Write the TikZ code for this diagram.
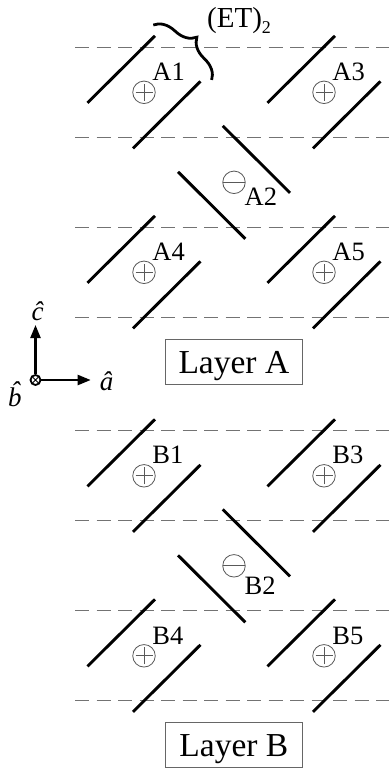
\documentclass[tikz,border=0pt]{standalone}
\usepackage{fontspec}
\setmainfont{Liberation Serif}
\usetikzlibrary{arrows.meta,decorations.pathreplacing}

\tikzset{
  stick/.style={line width=2.9pt, black},
  guide/.style={draw=black!55, line width=1.1pt, dash pattern=on 14pt off 7.5pt},
  ionring/.style={circle, draw=black!65, line width=0.8pt, minimum size=22.5pt, inner sep=0pt},
  plusion/.style={ionring, path picture={
      \draw[black!65, line width=0.8pt]
        ([xshift=-8.5pt]path picture bounding box.center) -- ([xshift=8.5pt]path picture bounding box.center)
        ([yshift=-8.5pt]path picture bounding box.center) -- ([yshift=8.5pt]path picture bounding box.center);}},
  minusion/.style={ionring, path picture={
      \draw[black!65, line width=0.8pt]
        ([xshift=-11pt]path picture bounding box.center) -- ([xshift=11pt]path picture bounding box.center);}},
  molname/.style={font=\fontsize{26.5}{29}\selectfont, inner sep=0pt, anchor=base west},
  layerbox/.style={draw=black!60, line width=0.9pt, font=\fontsize{33.5}{36}\selectfont,
      minimum width=137.7pt, inner xsep=0pt, inner ysep=0pt, text height=34pt, text depth=10.7pt, anchor=base},
  axisarrow/.style={line width=2.2pt, -{Triangle[length=13pt,width=10pt]}},
  axislab/.style={font=\fontsize{27}{30}\selectfont\itshape, inner sep=0pt},
  origin/.style={circle, draw, line width=1.8pt, minimum size=10pt, inner sep=0pt, path picture={
      \draw[line width=0.9pt]
        ([shift={(-3pt,-3pt)}]path picture bounding box.center) -- ([shift={(3pt,3pt)}]path picture bounding box.center)
        ([shift={(-3pt,3pt)}]path picture bounding box.center) -- ([shift={(3pt,-3pt)}]path picture bounding box.center);}},
}

% up-right molecule: name, x, y, label text, label position
\newcommand\upmol[5]{%
  \node[plusion] (#1) at (#2,#3) {};
  \draw[stick] ([shift={(-56.5,10.5)}]#1.center) -- ([shift={(11,-56.5)}]#1.center);
  \draw[stick] ([shift={(-11,56)}]#1.center) -- ([shift={(56.5,-11)}]#1.center);
  \node[molname] (#1lab) at #5 {#4};
}
% down-right molecule
\newcommand\downmol[5]{%
  \node[minusion] (#1) at (#2,#3) {};
  \draw[stick] ([shift={(-11.3,-56.5)}]#1.center) -- ([shift={(56,10.5)}]#1.center);
  \draw[stick] ([shift={(-56,-10.5)}]#1.center) -- ([shift={(11.3,56.5)}]#1.center);
  \node[molname] (#1lab) at #5 {#4};
}

\begin{document}
\begin{tikzpicture}[x=1pt,y=-1pt]
  \fill[white] (0,0) rectangle (389,769);
  \useasboundingbox (0,0) rectangle (389,769);

  % dashed guides
  \foreach \yy in {47.3,137.3,227.3,317.3,430.8,520.8,610.8,700.8}
    \draw[guide] (75,\yy) -- (389,\yy);

  % Layer A
  \upmol{A1}{144}{92.3}{A1}{(152.2,80)}
  \upmol{A3}{324}{92.3}{A3}{(332.2,80)}
  \downmol{A2}{234}{182.3}{A2}{(244.5,205)}
  \upmol{A4}{144}{272.3}{A4}{(152.2,260.5)}
  \upmol{A5}{324}{272.3}{A5}{(332.2,260.5)}

  % Layer B
  \upmol{B1}{144}{475.8}{B1}{(152.2,463.5)}
  \upmol{B3}{324}{475.8}{B3}{(332.2,463.5)}
  \downmol{B2}{234}{565.8}{B2}{(244.5,594)}
  \upmol{B4}{144}{655.8}{B4}{(152.2,644)}
  \upmol{B5}{324}{655.8}{B5}{(332.2,644)}

  % brace and (ET)2
  \coordinate (br1) at (153.3,25);
  \coordinate (br2) at (211.7,80);
  \draw[line width=2.8pt, decorate, decoration={brace, amplitude=21pt, aspect=0.5}] (br1) -- (br2);
  \node[anchor=base west, inner sep=0pt, font=\fontsize{29}{32}\selectfont] (et) at (207,27)
    {(ET)\raisebox{-6.6pt}{\fontsize{18}{20}\selectfont 2}};

  % layer labels
  \node[layerbox] (layA) at (233.85,373.3) {Layer A};
  \node[layerbox] (layB) at (233.85,756.8) {Layer B};

  % axes
  \node[origin] (orig) at (35.5,380) {};
  \coordinate (ctip) at (35.5,325);
  \coordinate (atip) at (90.7,380);
  \draw[axisarrow] (orig) -- (ctip);
  \draw[axisarrow] (orig) -- (atip);
  \node[axislab] (clab) at (37.5,311.5) {\^c};
  \node[axislab] (alab) at (106.7,381) {\^a};
  \node[axislab] (blab) at (15,394) {\makebox[0pt][l]{\raisebox{0.24em}{\hspace{0.1em}ˆ}}b};
\end{tikzpicture}
\end{document}
